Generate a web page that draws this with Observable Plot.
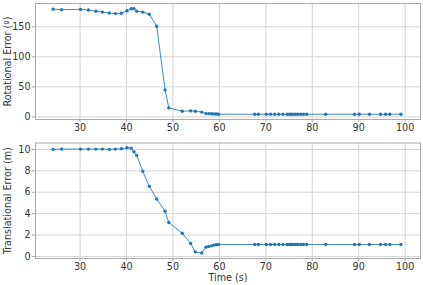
<!DOCTYPE html>
<html>
<head>
<meta charset="utf-8">
<script src="https://cdn.jsdelivr.net/npm/d3@7"></script>
<script src="https://cdn.jsdelivr.net/npm/@observablehq/plot@0.6"></script>
<style>
  html, body { margin: 0; padding: 0; background: white; }
  #chart svg { display: block; }
</style>
</head>
<body>
<div id="chart"></div>
<script>
const time = [24.2, 26.0, 30.1, 31.8, 33.4, 34.8, 36.3, 37.6, 38.9, 40.1, 41.0, 41.6, 42.2, 43.5, 44.9, 46.5, 48.3, 49.1, 52.0, 53.8, 54.8, 56.2, 57.1, 57.7, 58.3, 58.8, 59.3, 59.8,
  67.6, 68.4, 70.1, 71.0, 71.9, 72.8, 73.7, 74.6, 75.1, 75.5, 75.9, 76.4, 76.9, 77.5, 78.1, 78.8,
  82.9, 89.1, 90.1, 92.3, 94.7, 95.8, 96.7, 99.1];
const rotErr = [179.4, 178.6, 179.0, 178.0, 176.0, 174.5, 173.0, 172.0, 172.5, 176.7, 180.0, 180.0, 176.0, 174.5, 171.0, 151.0, 45.0, 15.0, 9.5, 10.0, 9.5, 8.0, 5.5, 5.5, 5.3, 5.0, 4.8, 4.5,
  4.5, 4.5, 4.5, 4.5, 4.5, 4.5, 4.5, 4.5, 4.5, 4.5, 4.5, 4.5, 4.5, 4.5, 4.5, 4.5,
  4.5, 4.5, 4.5, 4.5, 4.5, 4.5, 4.5, 4.5];
const transErr = [10.0, 10.03, 10.03, 10.03, 10.03, 10.03, 10.0, 10.03, 10.06, 10.15, 10.12, 9.78, 9.44, 7.95, 6.55, 5.37, 4.22, 3.17, 2.17, 1.22, 0.43, 0.32, 0.87, 0.93, 0.99, 1.06, 1.1, 1.12,
  1.12, 1.12, 1.12, 1.12, 1.12, 1.12, 1.12, 1.12, 1.12, 1.12, 1.12, 1.12, 1.12, 1.12, 1.12, 1.12,
  1.12, 1.12, 1.12, 1.12, 1.12, 1.12, 1.12, 1.12];
const xTicks = [30, 40, 50, 60, 70, 80, 90, 100];
const rotTicks = [0, 50, 100, 150];
const transTicks = [0, 2, 4, 6, 8, 10];

const data = time.map((t, i) => ({t, r: rotErr[i], e: transErr[i]}));
const blue = "#1f77b4";
const style = {fontFamily: "DejaVu Sans", fontSize: "9.6px", color: "#333", background: "white", overflow: "visible"};

function panel({yKey, yDomain, yTicks, yLabel, height, marginTop, marginBottom, xLabel}) {
  return Plot.plot({
    width: 423, height, marginTop, marginBottom, marginLeft: 35, marginRight: 3,
    style,
    x: {domain: [20.4, 103.3]},
    y: {domain: yDomain},
    marks: [
      Plot.gridX(xTicks, {stroke: "#d4d4d4", strokeOpacity: 1}),
      Plot.gridY(yTicks, {stroke: "#d4d4d4", strokeOpacity: 1}),
      Plot.frame({stroke: "#aaa"}),
      Plot.axisX(xTicks, {tickSize: 3, tickPadding: 2, stroke: "#aaa", fill: "#333",
        label: xLabel, labelAnchor: "center", labelOffset: 22, labelArrow: "none"}),
      Plot.axisY(yTicks, {tickSize: 3, tickPadding: 2, stroke: "#aaa", fill: "#333",
        label: yLabel, labelAnchor: "center", labelOffset: 31, labelArrow: "none"}),
      Plot.line(data, {x: "t", y: yKey, stroke: blue, strokeWidth: 1, strokeOpacity: 0.85}),
      Plot.dot(data, {x: "t", y: yKey, fill: blue, r: 1.7})
    ]
  });
}

const chart = document.getElementById("chart");
chart.append(panel({yKey: "r", yDomain: [-4.3, 188.8], yTicks: rotTicks, yLabel: "Rotational Error (º)",
  height: 134, marginTop: 3, marginBottom: 15, xLabel: null}));
chart.append(panel({yKey: "e", yDomain: [-0.19, 10.6], yTicks: transTicks, yLabel: "Translational Error (m)",
  height: 151, marginTop: 8.5, marginBottom: 27, xLabel: "Time (s)"}));
</script>
</body>
</html>
